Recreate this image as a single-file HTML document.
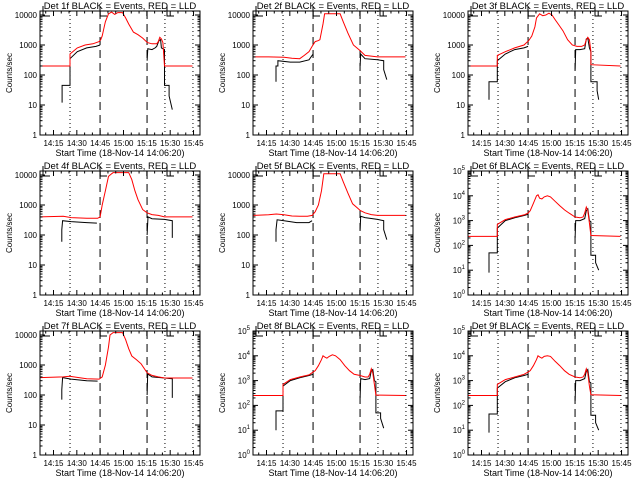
<!DOCTYPE html>
<html><head><meta charset="utf-8"><style>
html,body{margin:0;padding:0;background:#fff;}
svg{display:block;font-family:"Liberation Sans",sans-serif;}
</style></head><body>
<svg id="c" width="640" height="480" viewBox="0 0 640 480" xmlns="http://www.w3.org/2000/svg"></svg>
<script>
// ---- data (time in minutes after 14:06:20, counts/sec) ----
const p1RedT=[0,19.3,19.3,24,29,34,38,39,40,41,42,44,46,48,50,53,55,57,60,63,66,69,72,75,76,77,78,79,80,98];
const p1RedV=[200,200,500,800,1000,1100,1300,1500,2000,3500,6000,11000,12500,10500,12000,12000,8000,5000,2700,2200,1700,1200,1100,1100,1300,1800,1600,1200,200,200];
const p1BlkT=[14.2,14.2,19.3,19.3,24,30,36,38.6,null,68.8,69.3,72,74,75,76.5,77.5,78,80,80,83,83,85];
const p1BlkV=[12,45,45,350,600,800,900,1000,null,300,750,700,800,900,1400,1500,800,700,45,45,20,7];

const p2RedT=[0,10,20,25,30,33,36,38,40,42,43,45,46,56,58,61,64.5,68.8,72,80,98];
const p2RedV=[400,400,390,360,350,450,600,900,1300,1400,1500,5000,11000,11000,6000,2500,1000,650,450,400,400];
const p2BlkT=[14.8,14.8,16,16,24,30,36,38.6,null,68.8,69.2,72,80,84,84,86];
const p2BlkV=[60,200,200,300,270,270,320,500,null,200,500,350,320,300,150,70];

const p3RedT=[0,18.8,18.8,24,30,36,39,41,43,44,46,48,50,52,54,56,58,61,64,67,70,73,75,76,77,78,79,79,98];
const p3RedV=[200,200,450,600,800,1000,1400,2000,4000,8000,11000,9500,10000,11500,10000,7000,5000,3000,1500,1000,900,900,1000,1500,1800,1500,600,220,200];
const p3BlkT=[13.5,13.5,18.8,18.8,24,30,36,38.6,null,68.8,69.2,72,75,76,77,78,79,79,83,83,84];
const p3BlkV=[15,60,60,300,500,700,800,900,null,150,700,700,750,1600,1700,800,600,60,60,30,15];

const p4RedT=[0,15,20,30,37,38.6,40,42,44,46,47,57,59,61,63,66,68.8,72,76,80,98];
const p4RedV=[400,420,380,360,360,400,1000,3000,9000,11000,12000,12000,7000,3000,1500,700,550,480,450,400,400];
const p4BlkT=[14,14,14.5,20,30,36.6,null,68.8,69.4,72,80,85,85];
const p4BlkV=[60,150,300,280,260,250,null,100,400,350,330,300,80];

const p5RedT=[0,10,15,20,25,30,35,38,40,42,44,45.5,56,58,61,64,67,69,72,76,80,98];
const p5RedV=[450,470,500,470,430,420,420,450,600,1000,3000,11000,11000,6000,2500,1100,800,650,550,480,450,450];
const p5BlkT=[14.8,14.8,15.5,20,28,36,38,null,68.8,69.2,72,80,84,84,86];
const p5BlkV=[60,150,320,300,260,260,300,null,150,420,380,330,300,150,70];

const p6RedT=[0,18.8,18.8,24,30,36,38.6,40,42,44,45,46,47.5,49,51,53,56,59,62,65,68.8,72,74,75,76,77,78,79,98];
const p6RedV=[230,230,700,1100,1400,1700,2000,2500,5000,10000,11000,8000,7500,9000,10000,9000,6000,4000,2700,2000,1400,1300,1400,2000,3500,2500,800,250,230];
const p6BlkT=[13.5,13.5,18.8,18.8,24,30,36,38.6,null,68.8,69.2,72,75,76,77,78,79,79,82,82,84];
const p6BlkV=[8,50,50,500,1000,1300,1600,1800,null,200,1000,1000,1200,2500,3000,1000,900,40,40,20,10];

const p7RedT=[0,15,19,25,30,38,40,42,44,45,47,53,55,57,59,62,65,68.8,72,76,80,98];
const p7RedV=[380,400,420,380,350,340,400,1000,4000,10000,12000,12000,7000,3500,2000,1500,1100,550,450,400,370,370];
const p7BlkT=[14,14,14.5,20,30,37,null,68.8,69.2,72,80,85,85];
const p7BlkV=[70,150,380,340,300,290,null,100,500,400,370,350,80];

const p8RedT=[0,19.3,19.3,24,30,36,38.6,40,42,44,45,46,47.5,49,51,53,56,59,62,65,68.8,72,74,75,76,77,78,79,98];
const p8RedV=[250,250,700,1100,1400,1700,2200,2500,4000,7000,10000,9000,8000,9500,11000,10000,7000,4000,2500,1800,1600,1400,1400,1800,3000,2000,700,260,250];
const p8BlkT=[14.8,14.8,19.3,19.3,24,30,36,38.6,null,68.8,69.2,72,75,76,77,78,79,79,82,82,84];
const p8BlkV=[10,60,60,600,1000,1300,1600,1800,null,200,1200,1100,1200,2500,2800,1000,900,50,50,30,12];

const p9RedT=[0,18.8,18.8,24,30,36,38.6,40,42,44,45,46,47.5,49,51,53,56,59,62,65,68.8,72,74,75,76,77,78,79,98];
const p9RedV=[250,250,700,1100,1400,1800,2200,2500,4000,7000,10000,9000,8000,9500,10000,9500,6000,4000,2500,1800,1400,1300,1400,1800,3000,2000,600,270,250];
const p9BlkT=[13.5,13.5,18.8,18.8,24,30,36,38.6,null,68.8,69.2,72,75,76,77,78,79,79,82,82,84];
const p9BlkV=[8,45,45,500,900,1300,1600,1800,null,150,1000,1000,1200,2400,2800,900,800,40,40,20,10];

const xTickLabels=["14:15","14:30","14:45","15:00","15:15","15:30","15:45"];
const xTickTimes=[8.67,23.67,38.67,53.67,68.67,83.67,98.67];
const dottedTimes=[19.3,80.3,98.3];
const dashedTimes=[38.6,68.8];
const linLabels=["1","10","100","1000","10000"];

const panels=[
 {det:"1f",col:0,row:0,sc:"lin",rt:p1RedT,rv:p1RedV,bt:p1BlkT,bv:p1BlkV},
 {det:"2f",col:1,row:0,sc:"lin",rt:p2RedT,rv:p2RedV,bt:p2BlkT,bv:p2BlkV},
 {det:"3f",col:2,row:0,sc:"lin",rt:p3RedT,rv:p3RedV,bt:p3BlkT,bv:p3BlkV},
 {det:"4f",col:0,row:1,sc:"lin",rt:p4RedT,rv:p4RedV,bt:p4BlkT,bv:p4BlkV},
 {det:"5f",col:1,row:1,sc:"lin",rt:p5RedT,rv:p5RedV,bt:p5BlkT,bv:p5BlkV},
 {det:"6f",col:2,row:1,sc:"exp",rt:p6RedT,rv:p6RedV,bt:p6BlkT,bv:p6BlkV},
 {det:"7f",col:0,row:2,sc:"lin",rt:p7RedT,rv:p7RedV,bt:p7BlkT,bv:p7BlkV},
 {det:"8f",col:1,row:2,sc:"exp",rt:p8RedT,rv:p8RedV,bt:p8BlkT,bv:p8BlkV},
 {det:"9f",col:2,row:2,sc:"exp",rt:p9RedT,rv:p9RedV,bt:p9BlkT,bv:p9BlkV}
];
const lefts=[40,253,468];
const W=160,H=124,PXMIN=1.556;
const NS="http://www.w3.org/2000/svg";
const svg=document.getElementById('c');
function mk(tag,attrs,parent){const e=document.createElementNS(NS,tag);for(const k in attrs)e.setAttribute(k,attrs[k]);(parent||svg).appendChild(e);return e;}

panels.forEach((p,i)=>{
  const L=lefts[p.col],T=11+160*p.row,B=T+H,R=L+W;
  const g=mk('g',{});
  
  
  const xs=t=>L+t*PXMIN;
  const ppd=p.sc==="lin"?30:H/5;
  const ys=v=>B-Math.log10(v)*ppd;
  const cid='clip'+i;
  const cp=mk('clipPath',{id:cid},g);mk('rect',{x:L,y:T,width:W,height:H},cp);
  dottedTimes.forEach(t=>{const l=mk('line',{x1:xs(t),x2:xs(t),y1:T,y2:B,stroke:'#000','stroke-width':1,'stroke-dasharray':'1,3'},g);
    });
  dashedTimes.forEach(t=>{const l=mk('line',{x1:xs(t),x2:xs(t),y1:T,y2:B,stroke:'#000','stroke-width':1,'stroke-dasharray':'8,5'},g);
    });
  [3,60,127].forEach(o=>{const pth=mk('path',{d:`M${L+o},${T-5} V${T+5} H${L+o+7}`,fill:'none',stroke:'#000','stroke-width':1},g);
    });
  function series(ts,vs,color,name){
    let d='',pen=false;
    for(let k=0;k<ts.length;k++){
      if(ts[k]===null||vs[k]===null){pen=false;continue;}
      d+=(pen?'L':'M')+xs(ts[k]).toFixed(1)+','+ys(vs[k]).toFixed(1)+' ';pen=true;
    }
    const s=mk('path',{d:d,fill:'none',stroke:color,'stroke-width':1,'clip-path':`url(#${cid})`},g);
    
  }
  series(p.bt,p.bv,'#000','events-series-black');
  series(p.rt,p.rv,'#f00','lld-series-red');
  const bx=mk('rect',{x:L,y:T,width:W,height:H,fill:'none',stroke:'#000','stroke-width':1},g);
  
  const nd=p.sc==="lin"?4:5;
  for(let dcd=0;dcd<=nd;dcd++){
    const y=B-dcd*ppd;
    mk('line',{x1:L,x2:L+5,y1:y,y2:y,stroke:'#000'},g);mk('line',{x1:R,x2:R-5,y1:y,y2:y,stroke:'#000'},g);
    const tx=mk('text',{x:L-3,y:y+3,'font-size':8,'text-anchor':'end',fill:'#000'},g);
    
    if(p.sc==="lin")tx.textContent=linLabels[dcd];
    else{tx.textContent='10';const su=mk('tspan',{dy:-4,'font-size':6},tx);su.textContent=String(dcd);}
    if(dcd<nd)for(let m=2;m<=9;m++){const ym=y-Math.log10(m)*ppd;if(ym<T)break;
      mk('line',{x1:L,x2:L+2.5,y1:ym,y2:ym,stroke:'#000'},g);mk('line',{x1:R,x2:R-2.5,y1:ym,y2:ym,stroke:'#000'},g);}
  }
  xTickTimes.forEach((t,k)=>{const x=xs(t);
    mk('line',{x1:x,x2:x,y1:B,y2:B-5,stroke:'#000'},g);mk('line',{x1:x,x2:x,y1:T,y2:T+5,stroke:'#000'},g);
    const tx=mk('text',{x:x,y:B+11,'font-size':8,'text-anchor':'middle',fill:'#000'},g);
    
    tx.textContent=xTickLabels[k];
    for(let m=1;m<3;m++){const xm=xs(t-5*m);if(xm>L){mk('line',{x1:xm,x2:xm,y1:B,y2:B-2.5,stroke:'#000'},g);mk('line',{x1:xm,x2:xm,y1:T,y2:T+2.5,stroke:'#000'},g);}}
  });
  const xt=mk('text',{x:L+W/2,y:B+21,'font-size':9,'text-anchor':'middle',fill:'#000'},g);
  
  xt.textContent='Start Time (18-Nov-14 14:06:20)';
  const yt=mk('text',{x:0,y:0,'font-size':8,'text-anchor':'middle',fill:'#000',transform:`translate(${L-28},${T+H/2}) rotate(-90)`},g);
  
  yt.textContent='Counts/sec';
  const tt=mk('text',{x:L+W/2,y:T-2,'font-size':9.5,'text-anchor':'middle',fill:'#000'},g);
  
  tt.textContent='Det '+p.det+' BLACK = Events, RED = LLD';
});
</script>
</body></html>
